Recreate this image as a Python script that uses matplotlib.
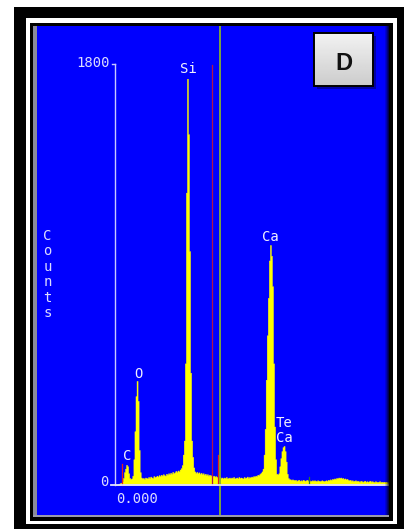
import numpy as np
import matplotlib
matplotlib.use('Agg')
import matplotlib.pyplot as plt
from matplotlib.patches import Rectangle

# EDS spectrum, 0.025 keV per channel starting at 0 keV
step = 0.025
counts = [
    0, 0, 2, 4, 6, 8, 10, 15, 30, 55,
    70, 86, 80, 50, 30, 26, 28, 40, 110, 230,
    380, 445, 360, 150, 55, 32, 28, 30, 26, 32,
    30, 28, 34, 30, 36, 32, 30, 38, 34, 36,
    40, 36, 42, 38, 44, 40, 46, 42, 40, 48,
    44, 50, 46, 52, 48, 56, 50, 54, 60, 56,
    62, 58, 66, 72, 85, 130, 190, 520, 1250, 1737,
    1500, 1000, 480, 190, 120, 75, 58, 52, 56, 50,
    54, 48, 52, 46, 50, 44, 48, 42, 46, 40,
    44, 40, 42, 38, 40, 36, 38, 34, 36, 32,
    34, 30, 32, 28, 32, 30, 34, 28, 30, 32,
    28, 32, 30, 34, 28, 30, 32, 28, 34, 30,
    32, 30, 28, 34, 30, 32, 36, 30, 34, 32,
    36, 34, 38, 36, 40, 38, 44, 42, 48, 52,
    58, 70, 130, 240, 450, 640, 800, 960, 1026, 980,
    850, 520, 250, 110, 48, 45, 50, 80, 115, 145,
    162, 167, 145, 100, 48, 30, 25, 24, 22, 24,
    22, 20, 22, 18, 20, 22, 18, 20, 18, 22,
    20, 18, 20, 22, 18, 20, 16, 18, 20, 18,
    20, 18, 16, 20, 18, 16, 18, 20, 18, 16,
    18, 20, 18, 22, 20, 24, 22, 26, 24, 28,
    26, 30, 28, 32, 30, 32, 28, 30, 26, 28,
    24, 26, 22, 20, 22, 18, 20, 16, 18, 20,
    16, 18, 16, 14, 18, 16, 14, 16, 18, 14,
    16, 14, 16, 18, 14, 16, 14, 12, 16, 14,
    12, 14, 16, 12, 14, 12, 14, 12, 14, 12, 12,
]
energy = np.arange(len(counts)) * step

y_max = 1800
y_labels = ['0', '1800']
x_label0 = '0.000'
# element labels: (text, pixel x, pixel y)
peak_labels = [('C', 127, 456), ('O', 138, 374), ('Si', 188, 69),
               ('Ca', 270, 237), ('Te', 284, 423), ('Ca', 284, 438)]
# marker lines (keV, top count, colour)
markers = [(0.174, 90, '#e02020'), (2.46, 128, '#e02020'), (4.62, 35, '#2a7a2a')]
red_line_e = 2.302
green_line_e = 2.5

W, H = 407, 529
fig = plt.figure(figsize=(W / 100, H / 100), dpi=100)

# frame (pixel coords)
bg = fig.add_axes([0, 0, 1, 1])
bg.set_xlim(0, W)
bg.set_ylim(H, 0)
bg.axis('off')
bg.add_patch(Rectangle((14, 7), 390, 530, color='black', lw=0))
bg.add_patch(Rectangle((25.5, 18), 371.5, 506, color='white', lw=0))
bg.add_patch(Rectangle((29.5, 22.5), 363.5, 498.5, color='black', lw=0))
bg.add_patch(Rectangle((33, 26), 4, 491, color='#8a8a9a', lw=0))
bg.add_patch(Rectangle((33, 515), 356, 2.2, color='#9a9aaa', lw=0))

# spectrum panel, x = 115 + 42 px/keV, zero counts at y = 485
left_px, right_px, top_px, bot_px = 37, 389, 26, 515
ax = fig.add_axes([left_px / W, 1 - bot_px / H, (right_px - left_px) / W, (bot_px - top_px) / H])
ax.set_facecolor('#0000fe')
ax.set_xlim((left_px - 115) / 42, (right_px - 115) / 42)
cpp = 1800 / 421.0
ax.set_ylim((485 - bot_px) * cpp, (485 - top_px) * cpp)
for s in ax.spines.values():
    s.set_visible(False)
ax.set_xticks([])
ax.set_yticks([])

ax.fill_between(energy, counts, step='mid', color='#ffff00', ec='#ffff00', lw=0.3, zorder=2)
ax.axvline(green_line_e, color='#86b030', lw=1.3, zorder=4)
ax.plot([red_line_e, red_line_e], [0, 1795], color='#b0144a', lw=0.9, zorder=3)
for e, top, c in markers:
    ax.plot([e, e], [0, top], color=c, lw=0.9, zorder=3)

axis_c = '#c8c8ff'
ax.plot([0, 0], [0, y_max], color=axis_c, lw=1.0, zorder=5)
ax.plot([-3 / 42, 0], [y_max, y_max], color=axis_c, lw=1.0, zorder=5)
ax.plot([-4 / 42, 7], [0, 0], color='#e0e0ff', lw=1.3, zorder=5)

# overlay (pixel coords) for text and label box
ov = fig.add_axes([0, 0, 1, 1], facecolor='none')
ov.set_xlim(0, W)
ov.set_ylim(H, 0)
ov.axis('off')
ov.set_zorder(5)

# dark shading at the right edge of the panel
for k, a in enumerate([0.15, 0.3, 0.5, 0.7]):
    ov.add_patch(Rectangle((385 + k, 26), 1, 489, color='black', alpha=a, lw=0))

mono = 'DejaVu Sans Mono'
txt_c = '#dcdcff'
ov.text(110, 63, y_labels[1], ha='right', va='center', color=txt_c, fontsize=10, family=mono)
ov.text(104.5, 482, y_labels[0], ha='center', va='center', color=txt_c, fontsize=10, family=mono)
ov.text(116, 499, x_label0, ha='left', va='center', color=txt_c, fontsize=10, family=mono)
for t, px, py in peak_labels:
    ov.text(px, py, t, ha='center', va='center', color='#f0f0ff', fontsize=10, family=mono)
for k, ch in enumerate('Counts'):
    ov.text(47.5, 236 + k * 15.4, ch, ha='center', va='center', color=txt_c, fontsize=10, family=mono)

# "D" label box with shadow
ov.add_patch(Rectangle((316.5, 36), 59, 53, color='black', alpha=0.35, lw=0))
grad = np.linspace(0.95, 0.8, 50).reshape(-1, 1)
ov.imshow(grad, cmap='gray', vmin=0, vmax=1, extent=(314.3, 373.3, 86, 33.3), aspect='auto', zorder=6)
ov.add_patch(Rectangle((314.3, 33.3), 59, 52.7, fill=False, ec='black', lw=1.4, zorder=7))
ov.text(344, 64, 'D', ha='center', va='center', fontsize=17, fontweight='bold',
        family='Liberation Sans', color='#111111', zorder=8)
ov.set_xlim(0, W)
ov.set_ylim(H, 0)

fig.savefig('out.png', dpi=100)
